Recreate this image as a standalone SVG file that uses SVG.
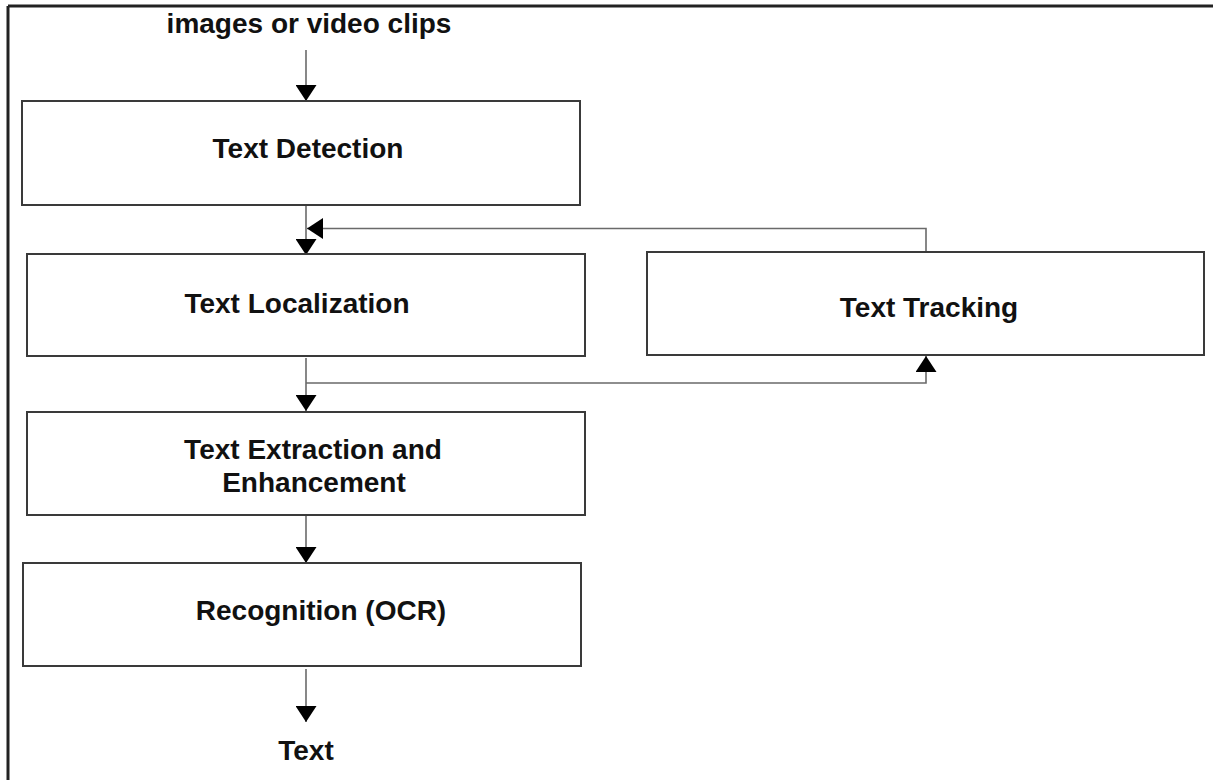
<svg xmlns="http://www.w3.org/2000/svg" width="1213" height="780" viewBox="0 0 1213 780">
  <style>
    .frame { stroke: #222; stroke-width: 3; fill: none; }
    .box { fill: #fff; stroke: #3a3a3a; stroke-width: 2; }
    .label { font-family: "Liberation Sans", Arial, Helvetica, sans-serif; font-weight: bold; font-size: 28px; fill: #111; text-anchor: middle; }
    .conn { fill: none; stroke: #6a6a6a; stroke-width: 1.6; }
  </style>
  <defs>
    <marker id="arrow" viewBox="0 0 16 21" refX="16" refY="10.5" markerWidth="16" markerHeight="21" markerUnits="userSpaceOnUse" orient="auto">
      <path d="M0,0 L16,10.5 L0,21 Z" fill="#000"/>
    </marker>
  </defs>

  <rect width="1213" height="780" fill="#fff"/>

  <!-- outer frame: top and left rules only -->
  <g id="frame">
    <line class="frame" x1="8" y1="6" x2="1213" y2="6"/>
    <line class="frame" x1="8" y1="6" x2="8" y2="780"/>
  </g>

  <g id="connectors">
    <path class="conn" d="M306,50 V101" marker-end="url(#arrow)"/>
    <path class="conn" d="M306,205 V255" marker-end="url(#arrow)"/>
    <path class="conn" d="M926,252 V228.5 H307" marker-end="url(#arrow)"/>
    <path class="conn" d="M306,358 V411" marker-end="url(#arrow)"/>
    <path class="conn" d="M306,383 H926 V356" marker-end="url(#arrow)"/>
    <path class="conn" d="M306,515 V563" marker-end="url(#arrow)"/>
    <path class="conn" d="M306,669 V722" marker-end="url(#arrow)"/>
  </g>

  <g id="input">
    <text class="label" x="309" y="33">images or video clips</text>
  </g>

  <g id="text-detection">
    <rect class="box" x="22" y="101" width="558" height="104"/>
    <text class="label" x="308" y="158">Text Detection</text>
  </g>

  <g id="text-localization">
    <rect class="box" x="27" y="254" width="558" height="102"/>
    <text class="label" x="297" y="313">Text Localization</text>
  </g>

  <g id="text-tracking">
    <rect class="box" x="647" y="252" width="557" height="103"/>
    <text class="label" x="929" y="317">Text Tracking</text>
  </g>

  <g id="text-extraction">
    <rect class="box" x="27" y="412" width="558" height="103"/>
    <text class="label" x="313" y="459">Text Extraction and</text>
    <text class="label" x="314" y="492">Enhancement</text>
  </g>

  <g id="recognition">
    <rect class="box" x="23" y="563" width="558" height="103"/>
    <text class="label" x="321" y="620">Recognition (OCR)</text>
  </g>

  <g id="output">
    <text class="label" x="306" y="760">Text</text>
  </g>
</svg>
